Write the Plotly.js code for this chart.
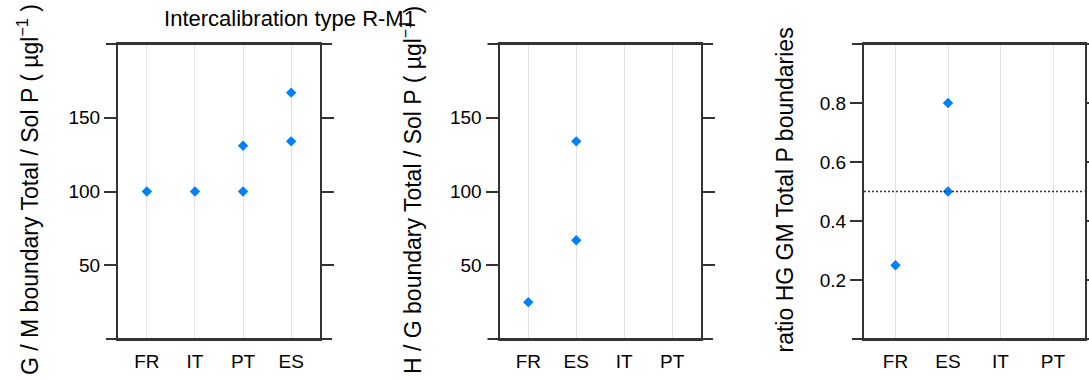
<!DOCTYPE html>
<html><head><meta charset="utf-8">
<script src="https://cdn.plot.ly/plotly-3.0.1.min.js"></script>
<style>html,body{margin:0;padding:0;background:#fff}#chart{width:1089px;height:380px}</style>
</head><body><div id="chart"></div>
<script>
// ---- data ----
const titleText = 'Intercalibration type R-M1';
const cats1 = ['FR', 'IT', 'PT', 'ES'];
const cats23 = ['FR', 'ES', 'IT', 'PT'];
const gmCountry = ['FR', 'IT', 'PT', 'PT', 'ES', 'ES'];
const gmValue = [100, 100, 100, 131, 134, 167];
const hgCountry = ['FR', 'ES', 'ES'];
const hgValue = [25, 67, 134];
const ratioCountry = ['FR', 'ES', 'ES'];
const ratioValue = [0.25, 0.5, 0.8];
const ratioRef = 0.5;
const ticksP = [50, 100, 150];
const ticksR = [0.2, 0.4, 0.6, 0.8];
const yTitles = [
  'G / M boundary Total / Sol P ( µgl<sup>−1</sup> )',
  'H / G boundary Total / Sol P ( µgl<sup>−1</sup> )',
  'ratio HG GM Total P boundaries'
];

// ---- layout helpers ----
const W = 1089, H = 380;
const px = v => v / W, py = v => 1 - v / H;
const FONT = '"Liberation Sans", Arial, sans-serif';
const lineCol = '#333333';
const panels = [[118, 320], [499.5, 701], [864, 1084.5]];
const yDom = [py(339), py(44)];
const TL = 12;

function xax(dom, cats) {
  return {
    domain: [px(dom[0]), px(dom[1])], type: 'category',
    categoryorder: 'array', categoryarray: cats, range: [-0.6, 3.6],
    showline: true, mirror: true, linecolor: lineCol, linewidth: 2,
    ticks: 'outside', ticklen: 4, tickcolor: 'rgba(0,0,0,0)',
    showgrid: true, gridcolor: '#e2e2e2', gridwidth: 1,
    tickfont: {family: FONT, size: 19, color: '#000'},
    zeroline: false, fixedrange: true
  };
}
function yax(range, tv) {
  return {
    domain: yDom, range: range, tickvals: tv,
    showline: true, mirror: 'ticks', linecolor: lineCol, linewidth: 2,
    ticks: 'outside', ticklen: TL, tickwidth: 2, tickcolor: lineCol,
    showgrid: false, zeroline: false,
    tickfont: {family: FONT, size: 19, color: '#000'}, fixedrange: true
  };
}
const mk = {symbol: 'diamond', size: 8, color: '#0080ff'};
const data = [
  {type: 'scatter', mode: 'markers', x: gmCountry, y: gmValue, xaxis: 'x', yaxis: 'y', marker: mk, hoverinfo: 'x+y'},
  {type: 'scatter', mode: 'markers', x: hgCountry, y: hgValue, xaxis: 'x2', yaxis: 'y2', marker: mk, hoverinfo: 'x+y'},
  {type: 'scatter', mode: 'markers', x: ratioCountry, y: ratioValue, xaxis: 'x3', yaxis: 'y3', marker: mk, hoverinfo: 'x+y'}
];

const shapes = [];
panels.forEach(p => {
  [339, 44].forEach(yy => {
    shapes.push({type: 'line', xref: 'paper', yref: 'paper',
      x0: px(p[0] - TL), x1: px(p[1] + TL), y0: py(yy), y1: py(yy),
      line: {color: lineCol, width: 2}});
  });
});
shapes.push({type: 'line', xref: 'x3 domain', yref: 'y3', x0: 0, x1: 1, y0: ratioRef, y1: ratioRef,
  line: {color: lineCol, width: 1.5, dash: '2px,2px'}});

const titleX = [28, 411, 784.5];
const annotations = yTitles.map((t, i) => ({
  text: t, textangle: -90, xref: 'paper', yref: 'paper',
  x: px(titleX[i]), y: py(190), xanchor: 'center', yanchor: 'middle',
  showarrow: false, font: {family: FONT, size: 23, color: '#000'}
}));

const layout = {
  width: W, height: H, margin: {l: 0, r: 0, t: 0, b: 0},
  paper_bgcolor: '#fff', plot_bgcolor: 'rgba(0,0,0,0)', showlegend: false,
  title: {text: titleText, xref: 'paper', yref: 'paper', x: px(290), y: py(18.5),
    xanchor: 'center', yanchor: 'middle', font: {family: FONT, size: 22, color: '#000'}},
  xaxis: xax(panels[0], cats1), yaxis: yax([0, 200], ticksP),
  xaxis2: Object.assign(xax(panels[1], cats23), {anchor: 'y2'}), yaxis2: Object.assign(yax([0, 200], ticksP), {anchor: 'x2'}),
  xaxis3: Object.assign(xax(panels[2], cats23), {anchor: 'y3'}), yaxis3: Object.assign(yax([0, 1], ticksR), {anchor: 'x3'}),
  shapes: shapes, annotations: annotations
};
Plotly.newPlot('chart', data, layout, {displayModeBar: false, staticPlot: true});
</script></body></html>
